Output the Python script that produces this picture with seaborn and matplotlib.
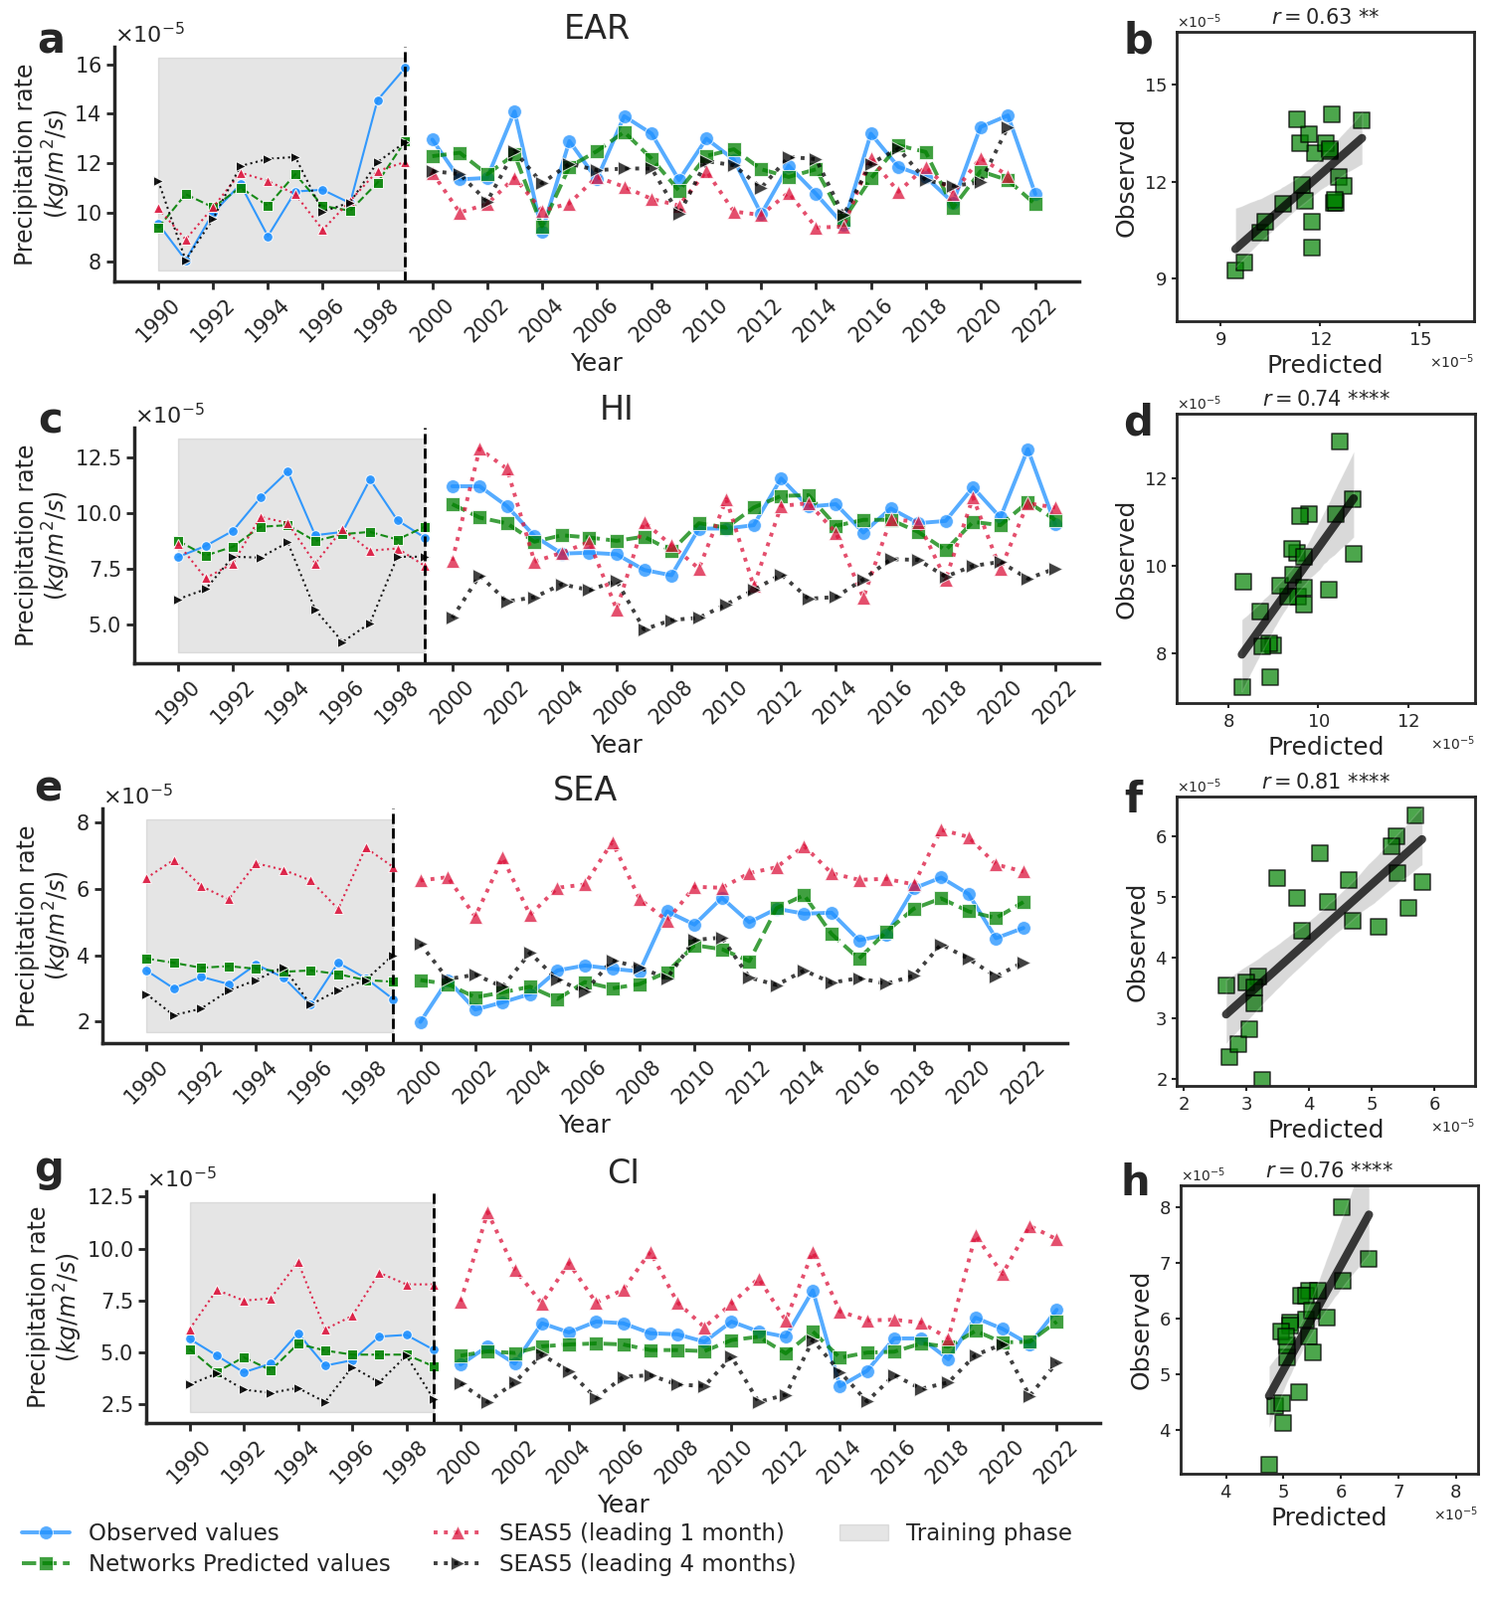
import numpy as np
import pandas as pd
import matplotlib
matplotlib.use("Agg")
import matplotlib.pyplot as plt
import seaborn as sns

sns.set_style("ticks")
plt.rcParams["font.family"] = ["DejaVu Sans"]

years = np.arange(1990, 2023)
split_year = 1999

regions = ["EAR", "HI", "SEA", "CI"]
letters_ts = ["a", "c", "e", "g"]
letters_sc = ["b", "d", "f", "h"]
r_values = [0.63, 0.74, 0.81, 0.76]
r_stars = ["**", "****", "****", "****"]
scatter_ticks = [[9, 12, 15], [8, 10, 12], [2, 3, 4, 5, 6], [4, 5, 6, 7, 8]]

# precipitation rate, units of 1e-5 kg/m2/s, years 1990..2022
ear_obs = [9.54, 8.07, 9.98, 11.14, 9.04, 10.85, 10.92, 10.38, 14.55, 15.85,
           12.95, 11.34, 11.40, 14.09, 9.23, 12.89, 11.34, 13.90, 13.19, 11.31, 12.99, 12.14,
           9.94, 11.89, 10.75, 9.50, 13.19, 11.85, 11.44, 10.40, 13.46, 13.93, 10.75]
ear_pred = [9.38, 10.74, 10.21, 11.01, 10.27, 11.55, 10.27, 10.07, 11.21, 12.88,
            12.28, 12.42, 11.55, 12.35, 9.44, 11.85, 12.48, 13.26, 12.18, 10.88, 12.29, 12.56,
            11.75, 11.44, 11.75, 9.70, 11.38, 12.72, 12.45, 10.20, 11.67, 11.31, 10.33]
ear_s1 = [10.17, 8.91, 10.21, 11.61, 11.28, 10.74, 9.30, 10.47, 11.68, 12.04,
          11.61, 10.00, 10.34, 11.41, 10.07, 10.37, 11.44, 11.04, 10.55, 10.28, 11.67, 10.04,
          9.90, 10.81, 9.39, 9.43, 12.21, 10.84, 11.85, 10.77, 12.21, 11.49, np.nan]
ear_s4 = [11.28, 8.07, 9.74, 11.88, 12.17, 12.25, 10.03, 10.41, 12.04, 12.84,
          11.68, 11.55, 10.45, 12.49, 11.18, 11.98, 11.71, 11.78, 11.78, 9.93, 12.08, 11.91,
          11.00, 12.25, 12.16, 9.90, 11.98, 12.59, 11.31, 11.08, 11.22, 13.46, np.nan]

hi_obs = [8.03, 8.52, 9.20, 10.68, 11.85, 9.00, 9.15, 11.50, 9.67, 8.89,
          11.19, 11.19, 10.30, 8.96, 8.18, 8.22, 8.15, 7.45, 7.21, 9.30, 9.30, 9.45,
          11.54, 10.28, 10.39, 9.12, 10.20, 9.54, 9.64, 11.14, 9.79, 12.85, 9.49]
hi_pred = [8.75, 8.09, 8.49, 9.38, 9.45, 8.74, 9.05, 9.15, 8.81, 9.38,
           10.39, 9.79, 9.53, 8.71, 9.00, 8.90, 8.75, 8.94, 8.30, 9.54, 9.34, 10.24,
           10.76, 10.79, 9.42, 9.69, 9.69, 9.15, 8.33, 9.60, 9.45, 10.49, 9.69]
hi_s1 = [8.63, 7.08, 7.74, 9.82, 9.55, 7.74, 9.27, 8.31, 8.41, 7.63,
         7.86, 12.86, 11.97, 7.82, 8.22, 8.70, 5.69, 9.60, 8.55, 7.51, 10.61, 6.73,
         10.31, 10.43, 9.12, 6.21, 9.72, 9.60, 7.03, 10.69, 7.48, 10.43, 10.24]
hi_s4 = [6.14, 6.59, 8.04, 8.00, 8.68, 5.67, 4.23, 5.07, 8.04, 8.04,
         5.30, 7.20, 6.04, 6.23, 6.81, 6.55, 6.96, 4.79, 5.21, 5.31, 5.91, 6.55,
         7.25, 6.16, 6.24, 7.03, 7.93, 7.90, 7.15, 7.63, 7.81, 7.06, 7.51]

sea_obs = [3.54, 3.00, 3.35, 3.13, 3.72, 3.33, 2.51, 3.77, 3.31, 2.68,
           1.99, 3.25, 2.36, 2.58, 2.83, 3.54, 3.69, 3.59, 3.51, 5.32, 4.92, 5.73,
           4.99, 5.40, 5.25, 5.28, 4.45, 4.61, 6.01, 6.34, 5.84, 4.51, 4.82]
sea_pred = [3.90, 3.77, 3.62, 3.67, 3.59, 3.50, 3.54, 3.43, 3.25, 3.20,
            3.25, 3.13, 2.73, 2.88, 3.05, 2.68, 3.19, 3.00, 3.13, 3.49, 4.30, 4.18,
            3.82, 5.42, 5.81, 4.64, 3.89, 4.71, 5.40, 5.71, 5.32, 5.12, 5.60]
sea_s1 = [6.32, 6.87, 6.08, 5.68, 6.77, 6.57, 6.25, 5.39, 7.24, 6.66,
          6.25, 6.35, 5.16, 6.94, 5.21, 6.03, 6.13, 7.41, 5.69, 5.04, 6.06, 6.03,
          6.47, 6.65, 7.29, 6.47, 6.27, 6.30, 6.13, 7.78, 7.56, 6.73, 6.52]
sea_s4 = [2.83, 2.19, 2.39, 2.93, 3.25, 3.64, 2.51, 2.95, 3.25, 4.00,
          4.34, 3.28, 3.41, 3.05, 4.07, 3.26, 2.90, 3.85, 3.62, 3.31, 4.46, 4.53,
          3.33, 3.10, 3.54, 3.17, 3.31, 3.14, 3.38, 4.33, 3.89, 3.36, 3.79]

ci_obs = [5.66, 4.86, 4.05, 4.47, 5.93, 4.37, 4.63, 5.77, 5.85, 5.14,
          4.42, 5.30, 4.47, 6.41, 5.97, 6.49, 6.41, 5.93, 5.88, 5.52, 6.49, 6.01,
          5.76, 7.99, 3.38, 4.12, 5.68, 5.68, 4.68, 6.68, 6.14, 5.39, 7.06]
ci_pred = [5.17, 4.07, 4.77, 4.15, 5.42, 5.10, 4.90, 4.90, 4.90, 4.34,
           4.85, 5.06, 4.98, 5.30, 5.39, 5.44, 5.39, 5.12, 5.12, 5.07, 5.60, 5.76,
           4.96, 6.01, 4.75, 5.00, 5.04, 5.44, 5.28, 6.04, 5.49, 5.52, 6.49]
ci_s1 = [6.12, 8.01, 7.50, 7.61, 9.36, 6.12, 6.76, 8.84, 8.28, 8.28,
         7.45, 11.75, 9.00, 7.37, 9.30, 7.40, 8.02, 9.85, 7.42, 6.22, 7.35, 8.57,
         6.55, 9.85, 6.98, 6.55, 6.58, 6.44, 5.68, 10.65, 8.78, 11.10, 10.45]
ci_s4 = [3.46, 3.99, 3.22, 3.06, 3.30, 2.62, 4.31, 3.57, 4.85, 2.78,
         3.51, 2.62, 3.57, 4.90, 4.10, 2.81, 3.83, 3.91, 3.46, 3.39, 4.80, 2.62,
         2.97, 5.60, 4.07, 2.65, 3.91, 3.26, 3.56, 4.88, 5.40, 2.91, 4.52]

data = {
    "EAR": (ear_obs, ear_pred, ear_s1, ear_s4),
    "HI": (hi_obs, hi_pred, hi_s1, hi_s4),
    "SEA": (sea_obs, sea_pred, sea_s1, sea_s4),
    "CI": (ci_obs, ci_pred, ci_s1, ci_s4),
}

series_labels = ["Observed values", "Networks Predicted values",
                 "SEAS5 (leading 1 month)", "SEAS5 (leading 4 months)"]
series_style = [("dodgerblue", "-", "o"), ("green", "--", "s"),
                ("crimson", ":", "^"), ("black", ":", ">")]

# layout in pixels (left, top, right, bottom)
W, H = 1494, 1609
ts_boxes = [(115, 47, 1085, 283), (135, 430, 1105, 667), (103, 813, 1073, 1049), (147, 1198, 1106, 1431)]
sc_boxes = [(1183, 32, 1482, 323), (1183, 416, 1483, 707), (1183, 801, 1483, 1092), (1187, 1192, 1486, 1482)]
ts_letter_pos = [(51, 41), (51, 424), (48, 793), (49, 1176)]
sc_letter_pos = [(1144, 41), (1144, 426), (1139, 805), (1141, 1190)]


def box(b):
    l, t, r, bt = b
    return [l / W, 1 - bt / H, (r - l) / W, (bt - t) / H]


fig = plt.figure(figsize=(W / 100, H / 100), dpi=100)
handles = None

for i, reg in enumerate(regions):
    df = pd.DataFrame({"year": years})
    for lab, vals in zip(series_labels, data[reg]):
        df[lab] = np.array(vals, dtype=float) * 1e-5
    train = df["year"] <= split_year

    ax = fig.add_axes(box(ts_boxes[i]))
    allv = df[series_labels].values
    lo, hi = np.nanmin(allv), np.nanmax(allv)
    pad = 0.055 * (hi - lo)
    ax.fill_between([years[0], split_year], lo - pad, hi + pad, color="gray", alpha=0.2,
                    label="Training phase")

    for lab, (c, ls, m) in zip(series_labels, series_style):
        d_tr = df[train]
        d_te = df[~train].dropna(subset=[lab])
        sns.lineplot(x=d_tr["year"], y=d_tr[lab], ax=ax, color=c, linestyle=ls, marker=m,
                     lw=1.5, markersize=7, alpha=0.9)
        sns.lineplot(x=d_te["year"], y=d_te[lab], ax=ax, color=c, linestyle=ls, marker=m,
                     lw=2.8, markersize=10, alpha=0.75, label=lab)
    ax.axvline(split_year, color="black", ls="--", lw=2)

    if i == 0:
        h, l = ax.get_legend_handles_labels()
        handles = (h, l)
    if ax.get_legend() is not None:
        ax.get_legend().remove()

    ax.set_xticks(np.arange(1990, 2023, 2))
    ax.tick_params(axis="x", rotation=45)
    ax.tick_params(labelsize=15, width=2, length=6)
    ax.ticklabel_format(axis="y", style="sci", scilimits=(-5, -5), useMathText=True)
    ax.yaxis.get_offset_text().set_fontsize(16)
    ax.spines[["top", "right"]].set_visible(False)
    for s in ["left", "bottom"]:
        ax.spines[s].set_linewidth(2.5)
    ax.set_xlabel("Year", fontsize=18)
    ax.set_ylabel("Precipitation rate\n$(kg/m^2/s)$", fontsize=17, labelpad=1, linespacing=1.1)
    ax.set_title(reg, fontsize=24)
    fig.text(ts_letter_pos[i][0] / W, 1 - ts_letter_pos[i][1] / H, letters_ts[i],
             fontsize=30, fontweight="bold", ha="center", va="center")

    # scatter of test period
    axs = fig.add_axes(box(sc_boxes[i]))
    test = df[~train]
    sns.regplot(x=test[series_labels[1]], y=test[series_labels[0]], ax=axs, color="green",
                marker="s", scatter_kws={"s": 120, "alpha": 0.7, "edgecolor": "black", "linewidths": 1.2},
                line_kws={"color": "black", "lw": 6, "alpha": 0.75})
    lim = (df[series_labels[0]].min() * 0.95, df[series_labels[0]].max() * 1.05)
    axs.set_xlim(lim)
    axs.set_ylim(lim)
    tk = np.array(scatter_ticks[i]) * 1e-5
    axs.set_xticks(tk)
    axs.set_yticks(tk)
    axs.ticklabel_format(axis="both", style="sci", scilimits=(-5, -5), useMathText=True)
    axs.xaxis.get_offset_text().set_fontsize(10)
    axs.yaxis.get_offset_text().set_fontsize(10)
    axs.tick_params(labelsize=13, width=1.5)
    for s in axs.spines.values():
        s.set_linewidth(2)
    axs.set_xlabel("Predicted", fontsize=18)
    axs.set_ylabel("Observed", fontsize=18)
    axs.set_title(f"$r = {r_values[i]:.2f}$ {r_stars[i]}", fontsize=15)
    fig.text(sc_letter_pos[i][0] / W, 1 - sc_letter_pos[i][1] / H, letters_sc[i],
             fontsize=30, fontweight="bold", ha="center", va="center")

h, l = handles
order = [l.index(n) for n in series_labels + ["Training phase"]]
fig.legend([h[k] for k in order], [l[k] for k in order], loc="upper left",
           bbox_to_anchor=(0.001, 0.061), ncol=3, frameon=False, fontsize=16.5,
           handlelength=2.1, labelspacing=0.35, columnspacing=1.9)

fig.savefig("out.png", dpi=100)
